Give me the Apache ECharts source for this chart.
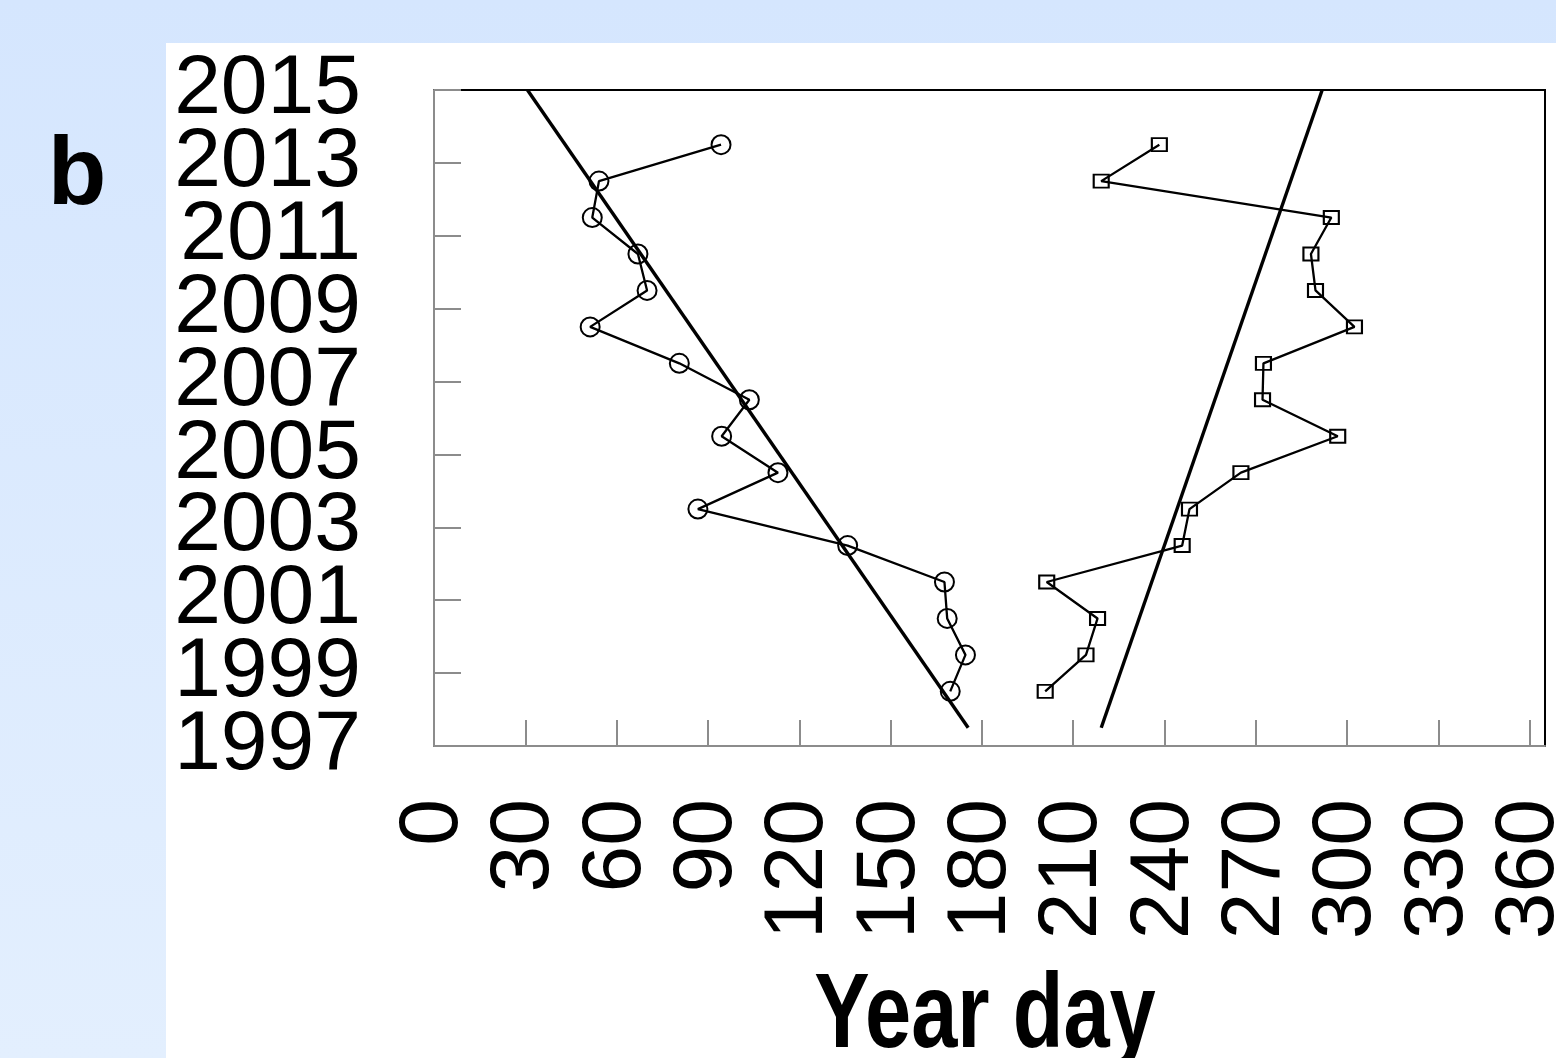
<!DOCTYPE html>
<html>
<head>
<meta charset="utf-8">
<script src="https://cdn.jsdelivr.net/npm/echarts@6/dist/echarts.min.js"></script>
<style>
  html, body { margin: 0; padding: 0; }
  #chart { width: 1556px; height: 1058px; }
</style>
</head>
<body>
<div id="chart"></div>
<script>
// Seasons 1998–2013, each plotted at the middle of its year
const years = [1998, 1999, 2000, 2001, 2002, 2003, 2004, 2005, 2006, 2007, 2008, 2009, 2010, 2011, 2012, 2013];

// Year day of the spring event (circles)
const springDay = [169.6, 174.6, 168.6, 167.7, 135.9, 86.7, 113.0, 94.5, 103.6, 80.6, 51.3, 70.0, 67.0, 52.0, 54.2, 94.3];

// Year day of the autumn event (squares)
const autumnDay = [200.8, 214.2, 218.0, 201.3, 245.8, 248.2, 265.1, 296.9, 272.2, 272.5, 302.4, 289.6, 288.1, 294.8, 219.2, 238.3];

// Fitted trend lines: [year day, year] end points
const springTrend = [[175.5, 1997.5], [30.7, 2015]];
const autumnTrend = [[219.2, 1997.5], [291.8, 2015]];

// Tick labels
const dayTicks = [0, 30, 60, 90, 120, 150, 180, 210, 240, 270, 300, 330, 360];
const yearTicks = ['1997', '1999', '2001', '2003', '2005', '2007', '2009', '2011', '2013', '2015'];

// The vertical axis counts years from the first labelled year
const YEAR0 = Number(yearTicks[0]);
const YEAR_SPAN = Number(yearTicks[yearTicks.length - 1]) - YEAR0;
const toPoints = (days) => days.map((d, i) => [d, years[i] + 0.5 - YEAR0]);
const shiftTrend = (pts) => pts.map(([d, y]) => [d, y - YEAR0]);

const GRID = { left: 434, top: 90, width: 1111, height: 656 };
const AXIS_GREY = '#8c8c8c';
const FONT = '"Liberation Sans", Arial, Helvetica, sans-serif';

// Year labels are large and tightly packed, so they are split over two
// coincident axes: one counting up from the bottom (1997, 2001, ...) and
// one counting down from the top (2015, 2011, ...), each every 4 years.
const yearLabelStyle = {
  margin: 73,
  color: '#000',
  fontSize: 84,
  fontFamily: FONT,
  hideOverlap: false,
  showMinLabel: true,
  showMaxLabel: false
};
const yearTickStyle = { show: true, inside: true, length: 27, lineStyle: { color: AXIS_GREY, width: 2 } };

const chart = echarts.init(document.getElementById('chart'), null, { renderer: 'canvas' });

chart.setOption({
  animation: false,
  graphic: [
    {
      type: 'rect', z: -10, silent: true,
      shape: { x: 0, y: 0, width: 1556, height: 1058 },
      style: {
        fill: {
          type: 'linear', x: 0, y: 0, x2: 0, y2: 1,
          colorStops: [{ offset: 0, color: '#d5e6fe' }, { offset: 1, color: '#e3effe' }]
        }
      }
    },
    {
      type: 'rect', z: -9, silent: true,
      shape: { x: 166, y: 43, width: 1390, height: 1015 },
      style: { fill: '#ffffff' }
    },
    {
      type: 'text', silent: true,
      x: 77, y: 178,
      style: { text: 'b', font: 'bold 96px ' + FONT, fill: '#000', align: 'center', verticalAlign: 'middle' }
    },
    {
      // axis title, drawn tall and narrow
      type: 'text', silent: true,
      x: 985, y: 1018, scaleY: 1.28,
      style: { text: 'Year day', font: 'bold 83px ' + FONT, fill: '#000', align: 'center', verticalAlign: 'middle' }
    }
  ],
  grid: Object.assign({
    show: true,
    backgroundColor: 'transparent',
    borderColor: '#000',
    borderWidth: 2,
    containLabel: false,
    outerBoundsMode: 'none'
  }, GRID),
  xAxis: {
    type: 'value',
    min: 0,
    max: 365,
    interval: 30,
    axisLine: { show: true, onZero: false, lineStyle: { color: AXIS_GREY, width: 2 } },
    axisTick: { show: true, inside: true, length: 26, customValues: dayTicks, lineStyle: { color: AXIS_GREY, width: 2 } },
    splitLine: { show: false },
    axisLabel: {
      customValues: dayTicks,
      rotate: 90,
      margin: 53,
      color: '#000',
      fontSize: 84,
      fontFamily: FONT,
      hideOverlap: false,
      showMinLabel: true,
      showMaxLabel: true
    }
  },
  yAxis: [
    {
      type: 'value',
      position: 'left',
      min: 0,
      max: YEAR_SPAN,
      interval: 4,
      axisLine: { show: true, onZero: false, lineStyle: { color: AXIS_GREY, width: 2 } },
      axisTick: yearTickStyle,
      splitLine: { show: false },
      axisLabel: Object.assign({}, yearLabelStyle, {
        formatter: (v) => (v % 4 === 0 ? yearTicks[v / 2] : '')
      })
    },
    {
      type: 'value',
      position: 'left',
      inverse: true,
      min: 0,
      max: YEAR_SPAN,
      interval: 4,
      axisLine: { show: false },
      axisTick: yearTickStyle,
      splitLine: { show: false },
      axisLabel: Object.assign({}, yearLabelStyle, {
        formatter: (v) => (v % 4 === 0 ? yearTicks[(YEAR_SPAN - v) / 2] : '')
      })
    }
  ],
  series: [
    {
      type: 'line',
      data: shiftTrend(springTrend),
      symbol: 'none',
      lineStyle: { color: '#000', width: 3.4 },
      silent: true, z: 3
    },
    {
      type: 'line',
      data: shiftTrend(autumnTrend),
      symbol: 'none',
      lineStyle: { color: '#000', width: 3.4 },
      silent: true, z: 3
    },
    {
      type: 'line',
      data: toPoints(springDay),
      symbol: 'circle',
      symbolSize: 19,
      showAllSymbol: true,
      lineStyle: { color: '#000', width: 2.3 },
      itemStyle: { color: 'rgba(0,0,0,0)', borderColor: '#000', borderWidth: 2 },
      emphasis: { disabled: true },
      silent: true, z: 4
    },
    {
      type: 'line',
      data: toPoints(autumnDay),
      symbol: 'rect',
      symbolSize: [15, 13],
      showAllSymbol: true,
      lineStyle: { color: '#000', width: 2.3 },
      itemStyle: { color: 'rgba(0,0,0,0)', borderColor: '#000', borderWidth: 2 },
      emphasis: { disabled: true },
      silent: true, z: 4
    }
  ]
});
</script>
</body>
</html>
